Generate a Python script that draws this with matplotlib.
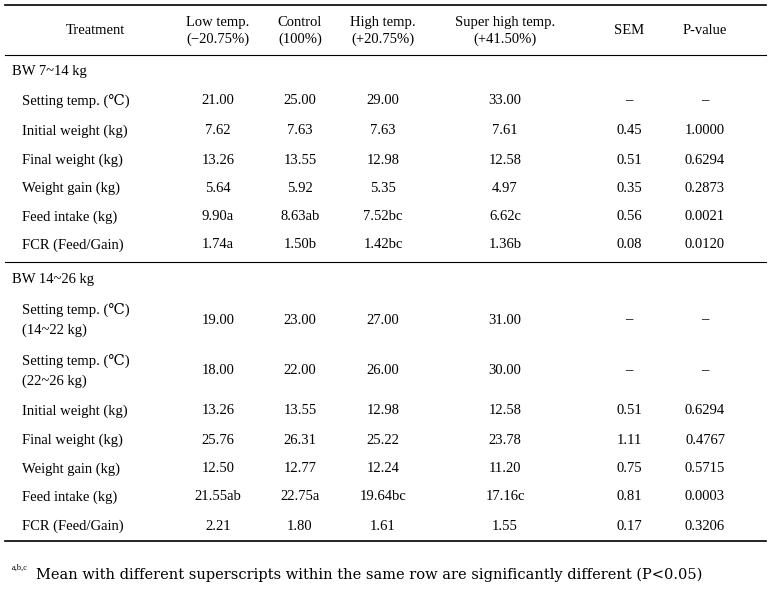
import matplotlib
matplotlib.use("Agg")
import matplotlib.pyplot as plt

plt.rcParams['font.family'] = ['Liberation Serif', 'DejaVu Serif']

headers = ["Treatment", "Low temp.\n(−20.75%)", "Control\n(100%)", "High temp.\n(+20.75%)",
           "Super high temp.\n(+41.50%)", "SEM", "P-value"]
sec1 = "BW 7~14 kg"
rows1 = [
    ["Setting temp. (℃)", "21.00", "25.00", "29.00", "33.00", "–", "–"],
    ["Initial weight (kg)", "7.62", "7.63", "7.63", "7.61", "0.45", "1.0000"],
    ["Final weight (kg)", "13.26", "13.55", "12.98", "12.58", "0.51", "0.6294"],
    ["Weight gain (kg)", "5.64", "5.92", "5.35", "4.97", "0.35", "0.2873"],
    ["Feed intake (kg)", "9.90a", "8.63ab", "7.52bc", "6.62c", "0.56", "0.0021"],
    ["FCR (Feed/Gain)", "1.74a", "1.50b", "1.42bc", "1.36b", "0.08", "0.0120"],
]
sec2 = "BW 14~26 kg"
rows2 = [
    ["Setting temp. (℃)\n(14~22 kg)", "19.00", "23.00", "27.00", "31.00", "–", "–"],
    ["Setting temp. (℃)\n(22~26 kg)", "18.00", "22.00", "26.00", "30.00", "–", "–"],
    ["Initial weight (kg)", "13.26", "13.55", "12.98", "12.58", "0.51", "0.6294"],
    ["Final weight (kg)", "25.76", "26.31", "25.22", "23.78", "1.11", "0.4767"],
    ["Weight gain (kg)", "12.50", "12.77", "12.24", "11.20", "0.75", "0.5715"],
    ["Feed intake (kg)", "21.55ab", "22.75a", "19.64bc", "17.16c", "0.81", "0.0003"],
    ["FCR (Feed/Gain)", "2.21", "1.80", "1.61", "1.55", "0.17", "0.3206"],
]
footnote = "Mean with different superscripts within the same row are significantly different (P<0.05)"

W, H = 772, 596
fig = plt.figure(figsize=(W/100, H/100), dpi=100)
ax = fig.add_axes([0, 0, 1, 1])
ax.set_xlim(0, W); ax.set_ylim(H, 0); ax.axis('off')

colx = [95, 218, 300, 383, 505, 629, 705]
fs = 10.5
L, R = 5, 766

for y, lw in [(5, 1.2), (55, 0.8), (262, 0.8), (541, 1.2)]:
    ax.plot([L, R], [y, y], color='black', lw=lw)

for x, h in zip(colx, headers):
    ax.text(x, 31, h, ha='center', va='center', fontsize=fs, linespacing=1.3)

def draw(sec, secy, rows, ys):
    ax.text(12, secy, sec, ha='left', va='center', fontsize=fs)
    for r, y in zip(rows, ys):
        ax.text(22, y, r[0], ha='left', va='center', fontsize=fs, linespacing=1.6)
        for x, v in zip(colx[1:], r[1:]):
            ax.text(x, y, v, ha='center', va='center', fontsize=fs)

draw(sec1, 72, rows1, [101, 131, 160, 188, 217, 245])
draw(sec2, 280, rows2, [320, 371, 411, 440, 469, 497, 526])

ax.text(12, 568, "a,b,c", ha='left', va='center', fontsize=6)
ax.text(36, 575, footnote, ha='left', va='center', fontsize=fs, family='DejaVu Serif')

fig.savefig("out.png", dpi=100)
